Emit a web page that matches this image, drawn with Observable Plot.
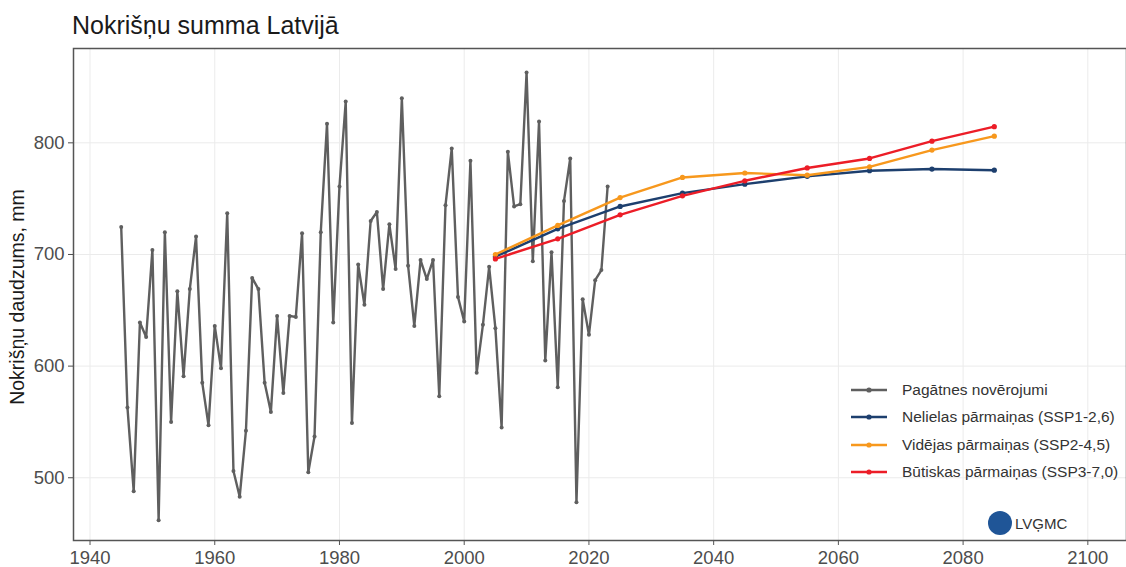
<!DOCTYPE html>
<html><head><meta charset="utf-8">
<script src="https://cdn.jsdelivr.net/npm/d3@7"></script>
<script src="https://cdn.jsdelivr.net/npm/@observablehq/plot@0.6"></script>
<style>
body{margin:0;background:#fff;font-family:"Liberation Sans",Arial,sans-serif;}
#wrap{position:relative;width:1126px;height:567px;overflow:hidden;background:#fff}
#title{position:absolute;left:72px;top:11px;font-size:25px;color:#1a1a1a;white-space:nowrap;line-height:28px}
#chart{position:absolute;left:0;top:46px}
#ylab{position:absolute;left:17px;top:297px;transform:translate(-50%,-50%) rotate(-90deg);font-size:19.5px;color:#1a1a1a;white-space:nowrap}
#legend{position:absolute;left:850px;top:376px;font-size:15.5px;color:#333}
.row{height:27.5px;display:flex;align-items:center;white-space:nowrap}
.row svg{margin-right:14px}
#logo{position:absolute;left:988px;top:511px;display:flex;align-items:center;font-size:15px;color:#333}
#logo span.c{display:inline-block;width:24px;height:24px;border-radius:50%;background:#1f5597;margin-right:3px}
</style></head>
<body><div id="wrap">
<div id="title">Nokrišņu summa Latvijā</div>
<div id="chart"></div>
<div id="ylab">Nokrišņu daudzums, mm</div>
<div id="legend"></div>
<div id="logo"><span class="c"></span>LVĢMC</div>
</div>
<script>
// Observed annual precipitation, 1945–2023
const histYears = d3.range(1945, 2024);
const histValues = [
 724.5,563,488,639,626,704,462,720,550,667,
 591,669,716,585,547,636,598,737,506,483,
 542,679,669,585,559,645,576,645,644,719,
 505,537,720,817,639,761,837,549,691,655,
 730,738,669,727,687,840,690,636,695,678,
 695,573,744,795,662,640,784,594,637,689,
 634,545,792,743,745,863,694,819,605,702,
 581,748,786,478,660,628,677,686,761
];
// Projections (decadal)
const projYears = [2005,2015,2025,2035,2045,2055,2065,2075,2085];
const ssp126 = [698,723,743,755,763,770,775,776.5,775.5];
const ssp245 = [700,726,751,769,773,771,778.5,793.5,806];
const ssp370 = [696,714,735.5,752.5,766,777.5,786,801.5,814.5];

const seriesNames = ["Pagātnes novērojumi","Nelielas pārmaiņas (SSP1-2,6)","Vidējas pārmaiņas (SSP2-4,5)","Būtiskas pārmaiņas (SSP3-7,0)"];
const seriesColors = ["#5f5f5f","#1d3f6e","#f7981d","#ec1d27"];

const xTicks = [1940,1960,1980,2000,2020,2040,2060,2080,2100];
const yTicks = [500,600,700,800];

const hist = histYears.map((y,i)=>({year:y,value:histValues[i],s:seriesNames[0]}));
const proj = [ssp126,ssp245,ssp370].flatMap((arr,k)=>projYears.map((y,i)=>({year:y,value:arr[i],s:seriesNames[k+1]})));

const lineMarks = [];
[hist, ...[1,2,3].map(k=>proj.filter(d=>d.s===seriesNames[k]))].forEach((data,k)=>{
  lineMarks.push(Plot.line(data,{x:"year",y:"value",stroke:seriesColors[k],strokeWidth:2.4,curve:"linear"}));
  lineMarks.push(Plot.dot(data,{x:"year",y:"value",fill:seriesColors[k],r:k===0?2:2.6}));
});

const chart = Plot.plot({
  width:1126, height:521,
  marginLeft:73, marginRight:0, marginTop:2, marginBottom:27,
  style:{fontFamily:"'Liberation Sans',Arial,sans-serif",background:"#fff"},
  x:{domain:[1937.35,2106.2]},
  y:{domain:[443.8,884.5]},
  marks:[
    Plot.ruleX(xTicks,{stroke:"#ebebeb",strokeWidth:1}),
    Plot.ruleY(yTicks,{stroke:"#ebebeb",strokeWidth:1}),
    ...lineMarks,
    Plot.frame({stroke:"#555",strokeWidth:1.5}),
    Plot.axisX({ticks:xTicks,tickFormat:d=>String(d),tickSize:5,tickPadding:5,fontSize:18.5,color:"#4d4d4d",stroke:"#555",label:null}),
    Plot.axisY({ticks:yTicks,tickSize:5,tickPadding:4,fontSize:18.5,color:"#4d4d4d",label:null})
  ]
});
document.getElementById("chart").appendChild(chart);

const leg = document.getElementById("legend");
seriesNames.forEach((n,k)=>{
  const row = document.createElement("div"); row.className="row";
  row.innerHTML = `<svg width="38" height="10"><line x1="1" x2="37" y1="5" y2="5" stroke="${seriesColors[k]}" stroke-width="2.6"/><circle cx="19" cy="5" r="2.6" fill="${seriesColors[k]}"/></svg><span>${n}</span>`;
  leg.appendChild(row);
});
</script>
</body></html>
